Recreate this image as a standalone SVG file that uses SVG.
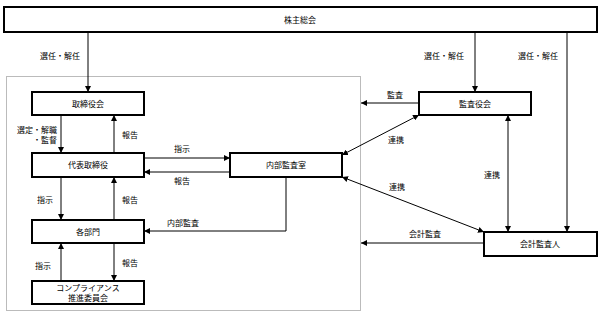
<svg xmlns="http://www.w3.org/2000/svg" width="603" height="320" viewBox="0 0 603 320">
<defs>
<marker id="ah" viewBox="0 0 10 10" refX="10" refY="5" markerWidth="6" markerHeight="6" markerUnits="userSpaceOnUse" orient="auto-start-reverse">
<path d="M0,0 L10,5 L0,10 z" fill="#000"/>
</marker>
<style>
text{font-family:"Noto Sans CJK JP","Noto Sans",sans-serif;font-size:8px;fill:#000}
.box{fill:#fff;stroke:#000;stroke-width:2}
.c{text-anchor:middle}
.e{text-anchor:end}
.ln{fill:none;stroke:#000;stroke-width:1}
.a{marker-end:url(#ah)}
.d{marker-start:url(#ah);marker-end:url(#ah)}
.frame{fill:none;stroke:#777;stroke-width:1;stroke-dasharray:1,1}
</style>
</defs>
<rect class="frame" x="6.5" y="76.5" width="354" height="234"/>
<g id="connectors">
<line class="ln a" x1="88" y1="32" x2="88" y2="92"/>
<line class="ln a" x1="475" y1="32" x2="475" y2="92"/>
<line class="ln a" x1="567" y1="32" x2="567" y2="232"/>
<line class="ln a" x1="61" y1="115" x2="61" y2="153"/>
<line class="ln a" x1="114" y1="153" x2="114" y2="115"/>
<line class="ln a" x1="61" y1="177" x2="61" y2="220"/>
<line class="ln a" x1="114" y1="220" x2="114" y2="177"/>
<line class="ln a" x1="61" y1="281" x2="61" y2="243"/>
<line class="ln a" x1="114" y1="243" x2="114" y2="281"/>
<line class="ln a" x1="144" y1="158" x2="230" y2="158"/>
<line class="ln a" x1="230" y1="172" x2="144" y2="172"/>
<polyline class="ln a" points="286,177 286,231 144,231"/>
<line class="ln a" x1="419" y1="103" x2="361" y2="103"/>
<line class="ln a" x1="484" y1="243" x2="361" y2="243"/>
<line class="ln d" x1="419" y1="115" x2="342" y2="155"/>
<line class="ln d" x1="342" y1="177" x2="484" y2="232"/>
<line class="ln d" x1="508" y1="115" x2="508" y2="232"/>
</g>
<g id="labels">
<text class="e" x="80" y="59">選任・解任</text>
<text class="e" x="464" y="59">選任・解任</text>
<text class="e" x="558" y="59">選任・解任</text>
<text class="e" x="57" y="133">選定・解職</text>
<text class="e" x="57" y="143">・監督</text>
<text class="c" x="130" y="138">報告</text>
<text class="c" x="182" y="152">指示</text>
<text class="c" x="182" y="184">報告</text>
<text class="e" x="53" y="203">指示</text>
<text class="c" x="130" y="203">報告</text>
<text class="c" x="183" y="226">内部監査</text>
<text class="e" x="51" y="269">指示</text>
<text class="c" x="130" y="266">報告</text>
<text class="c" x="395" y="98">監査</text>
<text class="c" x="396" y="143">連携</text>
<text class="c" x="397" y="190">連携</text>
<text class="c" x="492" y="178">連携</text>
<text class="c" x="425" y="237">会計監査</text>
</g>
<g id="shareholders"><rect class="box" x="4" y="7" width="593" height="25"/><text class="c" x="300" y="22.5">株主総会</text></g>
<g id="board"><rect class="box" x="32" y="92" width="112" height="23"/><text class="c" x="88" y="106.5">取締役会</text></g>
<g id="ceo"><rect class="box" x="32" y="153" width="112" height="24"/><text class="c" x="88" y="168">代表取締役</text></g>
<g id="departments"><rect class="box" x="32" y="220" width="112" height="23"/><text class="c" x="88" y="234.5">各部門</text></g>
<g id="compliance"><rect class="box" x="32" y="281" width="112" height="23"/><text class="c" x="88" y="291">コンプライアンス</text><text class="c" x="88" y="301">推進委員会</text></g>
<g id="internal-audit"><rect class="box" x="230" y="153" width="112" height="24"/><text class="c" x="286" y="168">内部監査室</text></g>
<g id="auditors"><rect class="box" x="419" y="92" width="112" height="23"/><text class="c" x="475" y="106.5">監査役会</text></g>
<g id="accounting-auditor"><rect class="box" x="484" y="232" width="113" height="24"/><text class="c" x="540" y="247">会計監査人</text></g>
</svg>
